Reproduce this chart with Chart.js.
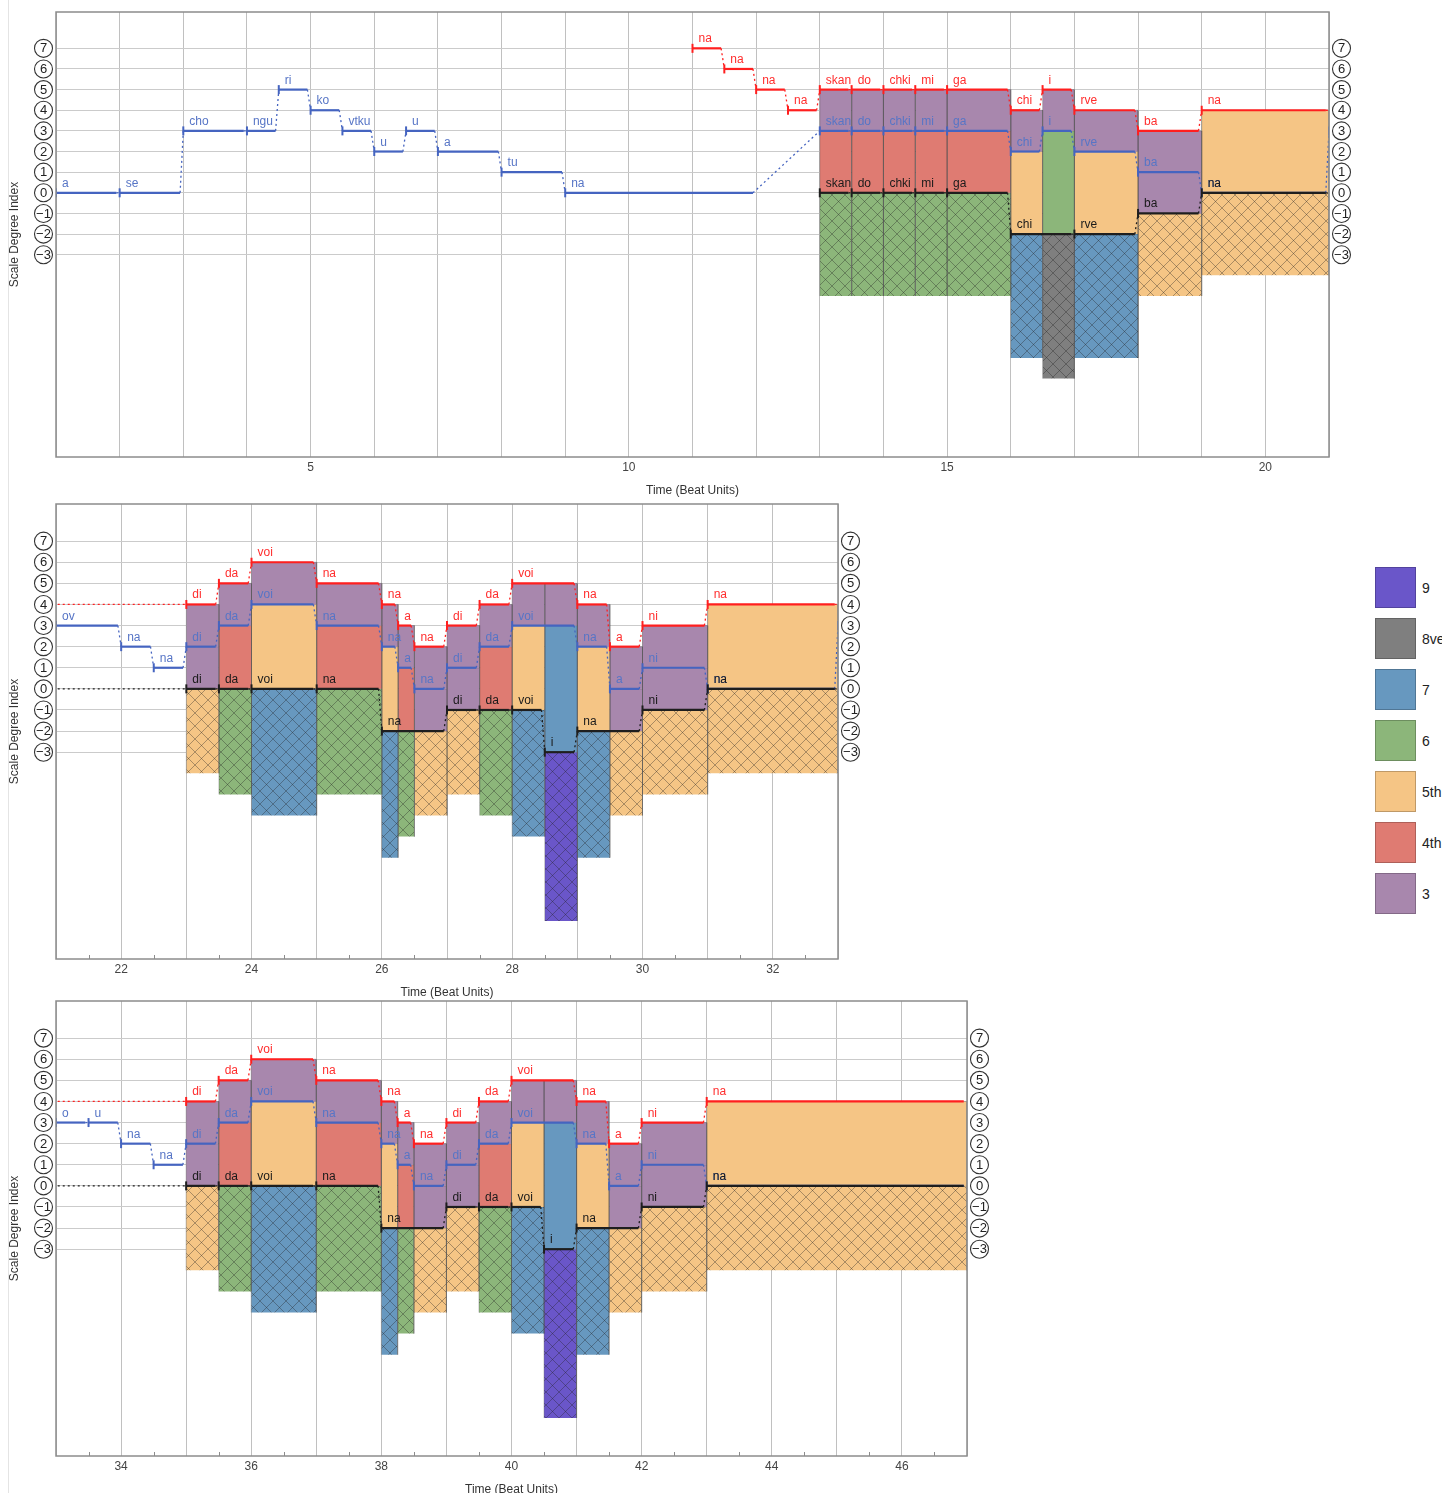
<!DOCTYPE html>
<html>
<head>
<meta charset="utf-8">
<script src="https://cdn.jsdelivr.net/npm/chart.js@4.4.1/dist/chart.umd.min.js"></script>
<style>
    html, body { margin: 0; padding: 0; background: #fff; overflow: hidden; width: 1442px; height: 1493px; }
    canvas { position: absolute; left: 0; }
    #edge { position: absolute; left: 8px; top: 0; width: 1px; height: 1493px; background: #e4e4e4; }
    #legend { position: absolute; left: 1375px; top: 567px; font: 14px 'Liberation Sans', Arial, sans-serif; color: #222; }
    .item { display: flex; align-items: center; height: 41px; margin-bottom: 10px; white-space: nowrap; }
    .box { width: 39px; height: 39px; border: 1px solid rgba(0, 0, 0, 0.22); margin-right: 6px; }
</style>
</head>
<body>
<div id="edge"></div>
<canvas id="c0"></canvas>
<canvas id="c1"></canvas>
<canvas id="c2"></canvas>
<div id="legend"></div>
<script>
const FONT = "'Liberation Sans', Arial, sans-serif";

// [start beat, end beat, scale degree, syllable]
const redNotes = [
    [11, 11.5, 7, 'na'], [11.5, 12, 6, 'na'], [12, 12.5, 5, 'na'], [12.5, 13, 4, 'na'],
    [13, 13.5, 5, 'skan'], [13.5, 14, 5, 'do'], [14, 14.5, 5, 'chki'], [14.5, 15, 5, 'mi'], [15, 16, 5, 'ga'],
    [16, 16.5, 4, 'chi'], [16.5, 17, 5, 'i'], [17, 18, 4, 'rve'], [18, 19, 3, 'ba'], [19, 21, 4, 'na'],
    [23, 23.5, 4, 'di'], [23.5, 24, 5, 'da'], [24, 25, 6, 'voi'], [25, 26, 5, 'na'],
    [26, 26.25, 4, 'na'], [26.25, 26.5, 3, 'a'], [26.5, 27, 2, 'na'], [27, 27.5, 3, 'di'], [27.5, 28, 4, 'da'],
    [28, 29, 5, 'voi'], [29, 29.5, 4, 'na'], [29.5, 30, 2, 'a'], [30, 31, 3, 'ni'], [31, 33, 4, 'na'],
    [35, 35.5, 4, 'di'], [35.5, 36, 5, 'da'], [36, 37, 6, 'voi'], [37, 38, 5, 'na'],
    [38, 38.25, 4, 'na'], [38.25, 38.5, 3, 'a'], [38.5, 39, 2, 'na'], [39, 39.5, 3, 'di'], [39.5, 40, 4, 'da'],
    [40, 41, 5, 'voi'], [41, 41.5, 4, 'na'], [41.5, 42, 2, 'a'], [42, 43, 3, 'ni'], [43, 47, 4, 'na']
];

const blueNotes = [
    [1, 2, 0, 'a'], [2, 3, 0, 'se'], [3, 4, 3, 'cho'], [4, 4.5, 3, 'ngu'], [4.5, 5, 5, 'ri'], [5, 5.5, 4, 'ko'],
    [5.5, 6, 3, 'vtku'], [6, 6.5, 2, 'u'], [6.5, 7, 3, 'u'], [7, 8, 2, 'a'], [8, 9, 1, 'tu'], [9, 12, 0, 'na'],
    [13, 13.5, 3, 'skan'], [13.5, 14, 3, 'do'], [14, 14.5, 3, 'chki'], [14.5, 15, 3, 'mi'], [15, 16, 3, 'ga'],
    [16, 16.5, 2, 'chi'], [16.5, 17, 3, 'i'], [17, 18, 2, 'rve'], [18, 19, 1, 'ba'], [19, 21, 0, 'na'],
    [21, 22, 3, 'ov'], [22, 22.5, 2, 'na'], [22.5, 23, 1, 'na'],
    [23, 23.5, 2, 'di'], [23.5, 24, 3, 'da'], [24, 25, 4, 'voi'], [25, 26, 3, 'na'],
    [26, 26.25, 2, 'na'], [26.25, 26.5, 1, 'a'], [26.5, 27, 0, 'na'], [27, 27.5, 1, 'di'], [27.5, 28, 2, 'da'],
    [28, 29, 3, 'voi'], [29, 29.5, 2, 'na'], [29.5, 30, 0, 'a'], [30, 31, 1, 'ni'], [31, 33, 0, 'na'],
    [33, 33.5, 3, 'o'], [33.5, 34, 3, 'u'], [34, 34.5, 2, 'na'], [34.5, 35, 1, 'na'],
    [35, 35.5, 2, 'di'], [35.5, 36, 3, 'da'], [36, 37, 4, 'voi'], [37, 38, 3, 'na'],
    [38, 38.25, 2, 'na'], [38.25, 38.5, 1, 'a'], [38.5, 39, 0, 'na'], [39, 39.5, 1, 'di'], [39.5, 40, 2, 'da'],
    [40, 41, 3, 'voi'], [41, 41.5, 2, 'na'], [41.5, 42, 0, 'a'], [42, 43, 1, 'ni'], [43, 47, 0, 'na']
];

const blackNotes = [
    [13, 13.5, 0, 'skan'], [13.5, 14, 0, 'do'], [14, 14.5, 0, 'chki'], [14.5, 15, 0, 'mi'], [15, 16, 0, 'ga'],
    [16, 17, -2, 'chi'], [17, 18, -2, 'rve'], [18, 19, -1, 'ba'], [19, 21, 0, 'na'],
    [23, 23.5, 0, 'di'], [23.5, 24, 0, 'da'], [24, 25, 0, 'voi'], [25, 26, 0, 'na'], [26, 27, -2, 'na'],
    [27, 27.5, -1, 'di'], [27.5, 28, -1, 'da'], [28, 28.5, -1, 'voi'], [28.5, 29, -3, 'i'],
    [29, 30, -2, 'na'], [30, 31, -1, 'ni'], [31, 33, 0, 'na'],
    [35, 35.5, 0, 'di'], [35.5, 36, 0, 'da'], [36, 37, 0, 'voi'], [37, 38, 0, 'na'], [38, 39, -2, 'na'],
    [39, 39.5, -1, 'di'], [39.5, 40, -1, 'da'], [40, 40.5, -1, 'voi'], [40.5, 41, -3, 'i'],
    [41, 42, -2, 'na'], [42, 43, -1, 'ni'], [43, 47, 0, 'na']
];

// interval size in scale steps -> legend name / colour
const intervalSteps = [8, 7, 6, 5, 4, 3, 2];
const intervalNames = ['9', '8ve', '7', '6', '5th', '4th', '3'];
const intervalColors = ['#6a56c9', '#7f7f7f', '#6798bf', '#8cb67a', '#f5c585', '#df7b72', '#a887ad'];

const degreeTicks = [-3, -2, -1, 0, 1, 2, 3, 4, 5, 6, 7];
const panelRanges = [[1, 21], [21, 33], [33, 47]];
const panelLabelStep = [5, 2, 2];

const Y_MIN = -12.8, Y_MAX = 8.76;
const GAP = 0.05;

const panelBoxes = [
    { top: 12, bottom: 457, right: 1329, halfTicks: false },
    { top: 504, bottom: 959, right: 838, halfTicks: true },
    { top: 1001, bottom: 1456, right: 967, halfTicks: true }
];

// order: smaller is drawn on top
const voices = [
    { notes: redNotes, line: '#ff1f1f', text: '#ff2e2e', order: 1 },
    { notes: blueNotes, line: '#4564c0', text: '#5775c6', order: 3 },
    { notes: blackNotes, line: '#1e1e1e', text: '#1a1a1a', order: 2 }
];

function colorFor(steps) {
    const i = intervalSteps.indexOf(steps);
    return i < 0 ? '#cccccc' : intervalColors[i];
}

const hatchCache = {};
function hatch(color) {
    if (hatchCache[color]) return hatchCache[color];
    const c = document.createElement('canvas');
    c.width = 13; c.height = 13;
    const g = c.getContext('2d');
    g.fillStyle = color;
    g.fillRect(0, 0, 13, 13);
    g.strokeStyle = 'rgba(35,35,35,0.45)';
    g.lineWidth = 0.8;
    g.beginPath();
    g.moveTo(0, 0); g.lineTo(13, 13);
    g.moveTo(13, 0); g.lineTo(0, 13);
    g.stroke();
    hatchCache[color] = g.createPattern(c, 'repeat');
    return hatchCache[color];
}

function noteAt(notes, t) {
    return notes.find(n => n[0] <= t && t < n[1]);
}

// split the timeline wherever any voice changes; keep spans where all three sound
function chordSegments() {
    const all = [...redNotes, ...blueNotes, ...blackNotes];
    const cuts = [...new Set(all.flatMap(n => [n[0], n[1]]))].sort((a, b) => a - b);
    const segs = [];
    for (let i = 0; i < cuts.length - 1; i++) {
        const mid = (cuts[i] + cuts[i + 1]) / 2;
        const r = noteAt(redNotes, mid), u = noteAt(blueNotes, mid), k = noteAt(blackNotes, mid);
        if (r && u && k) segs.push({ s: cuts[i], e: cuts[i + 1], top: r[2], mid: u[2], bass: k[2] });
    }
    return segs;
}

function rect(s, e, lo, hi, fillStyle) {
    return {
        data: [{ x: s, y: lo }, { x: s, y: hi }, { x: e, y: hi }, { x: e, y: lo }],
        fill: { value: lo },
        backgroundColor: fillStyle,
        borderColor: 'rgba(70,70,70,0.45)',
        borderWidth: 0.7,
        pointRadius: 0,
        tension: 0,
        order: 5
    };
}

function voicePoints(notes) {
    const pts = [];
    notes.forEach(n => {
        pts.push({ x: n[0], y: n[2] });
        pts.push({ x: n[1] - GAP, y: n[2] });
    });
    return pts;
}

function voiceDataset(v) {
    return {
        data: voicePoints(v.notes),
        borderColor: v.line,
        borderWidth: 2.2,
        fill: false,
        tension: 0,
        pointStyle: 'line',
        rotation: 90,
        pointRadius: ctx => ctx.dataIndex % 2 === 0 ? 4.5 : 0,
        pointBorderColor: v.line,
        pointBorderWidth: 2,
        pointHoverRadius: 0,
        segment: {
            borderDash: ctx => ctx.p0DataIndex % 2 === 1 ? [2, 3] : undefined,
            borderWidth: ctx => ctx.p0DataIndex % 2 === 1 ? 1.3 : undefined
        },
        order: v.order
    };
}

const overlayPlugin = {
    id: 'overlay',
    afterDatasetsDraw(chart) {
        const { ctx, chartArea: a, scales: { x, y } } = chart;
        const box = chart.options.plugins.overlay;
        ctx.save();
        ctx.strokeStyle = '#8c8c8c';
        ctx.lineWidth = 1.5;
        ctx.strokeRect(a.left, a.top, a.right - a.left, a.bottom - a.top);
        if (box.halfTicks) {
            ctx.lineWidth = 1;
            ctx.beginPath();
            for (let t = x.min + 0.5; t < x.max; t += 1) {
                const px = Math.round(x.getPixelForValue(t)) + 0.5;
                ctx.moveTo(px, a.bottom);
                ctx.lineTo(px, a.bottom - 4);
            }
            ctx.stroke();
        }
        ctx.font = '12px ' + FONT;
        ctx.textAlign = 'left';
        ctx.textBaseline = 'alphabetic';
        [voices[1], voices[2], voices[0]].forEach(v => {
            ctx.fillStyle = v.text;
            v.notes.forEach(n => {
                if (n[0] < x.min || n[0] >= x.max) return;
                ctx.fillText(n[3], x.getPixelForValue(n[0]) + 6, y.getPixelForValue(n[2]) - 6);
            });
        });
        ctx.restore();
    },
    afterDraw(chart) {
        const { ctx, chartArea: a, scales: { y } } = chart;
        ctx.save();
        ctx.font = '13px ' + FONT;
        ctx.textAlign = 'center';
        ctx.textBaseline = 'middle';
        ctx.strokeStyle = '#333';
        ctx.fillStyle = '#222';
        ctx.lineWidth = 1.1;
        degreeTicks.forEach(d => {
            const py = y.getPixelForValue(d);
            [a.left - 12.5, a.right + 12.5].forEach(cx => {
                ctx.beginPath();
                ctx.arc(cx, py, 9, 0, Math.PI * 2);
                ctx.stroke();
                ctx.fillText(d < 0 ? '\u2212' + Math.abs(d) : String(d), cx, py + 0.5);
            });
        });
        ctx.restore();
    }
};

const segments = chordSegments();

panelRanges.forEach(([xMin, xMax], p) => {
    const box = panelBoxes[p];
    const canvas = document.getElementById('c' + p);
    const width = box.right + 41;
    const height = box.bottom - box.top + 12 + 45;
    canvas.width = width;
    canvas.height = height;
    canvas.style.top = (box.top - 12) + 'px';
    canvas.style.width = width + 'px';
    canvas.style.height = height + 'px';

    const datasets = voices.map(voiceDataset);
    segments.filter(sg => sg.e > xMin && sg.s < xMax).forEach(sg => {
        const upper = sg.top - sg.mid;
        const lower = sg.mid - sg.bass;
        const outer = sg.top - sg.bass;
        if (upper > 0) datasets.push(rect(sg.s, sg.e, sg.mid, sg.top, colorFor(upper)));
        if (lower > 0) datasets.push(rect(sg.s, sg.e, sg.bass, sg.mid, colorFor(lower)));
        if (outer > 0) datasets.push(rect(sg.s, sg.e, sg.bass - outer, sg.bass, hatch(colorFor(outer))));
    });

    new Chart(canvas.getContext('2d'), {
        type: 'line',
        data: { datasets },
        plugins: [overlayPlugin],
        options: {
            responsive: false,
            animation: false,
            events: [],
            layout: { padding: { top: 12, left: 0, right: 0, bottom: 0 } },
            plugins: {
                legend: { display: false },
                tooltip: { enabled: false },
                overlay: box
            },
            scales: {
                x: {
                    type: 'linear', min: xMin, max: xMax,
                    ticks: {
                        stepSize: 0.5, autoSkip: false, maxRotation: 0, padding: 3,
                        color: '#444', font: { size: 12, family: FONT },
                        callback: v => (Number.isInteger(v) && v % panelLabelStep[p] === 0) ? String(v) : ''
                    },
                    grid: {
                        color: ctx => Number.isInteger(ctx.tick.value) ? '#c0c0c0' : 'rgba(0,0,0,0)',
                        drawTicks: false
                    },
                    border: { display: false },
                    title: {
                        display: true, text: 'Time (Beat Units)', color: '#333',
                        font: { size: 12, family: FONT }, padding: { top: 4, bottom: 4 }
                    },
                    afterFit: s => { s.height = 45; }
                },
                y: {
                    type: 'linear', position: 'left', min: Y_MIN, max: Y_MAX,
                    ticks: { display: false, stepSize: 1 },
                    grid: {
                        color: ctx => (Number.isInteger(ctx.tick.value) && ctx.tick.value >= -3 && ctx.tick.value <= 7) ? '#cbcbcb' : 'rgba(0,0,0,0)',
                        drawTicks: false
                    },
                    border: { display: false },
                    title: {
                        display: true, text: 'Scale Degree Index', color: '#333',
                        font: { size: 12, family: FONT }, padding: { top: 7, bottom: 0 }
                    },
                    afterFit: s => { s.width = 56; }
                },
                y2: {
                    type: 'linear', position: 'right', min: Y_MIN, max: Y_MAX,
                    ticks: { display: false },
                    grid: { display: false },
                    border: { display: false },
                    afterFit: s => { s.width = 41; }
                }
            }
        }
    });
});

const legend = document.getElementById('legend');
intervalNames.forEach((name, i) => {
    const item = document.createElement('div');
    item.className = 'item';
    item.innerHTML = `<div class="box" style="background:${intervalColors[i]}"></div><span>${name}</span>`;
    legend.appendChild(item);
});
</script>
</body>
</html>
